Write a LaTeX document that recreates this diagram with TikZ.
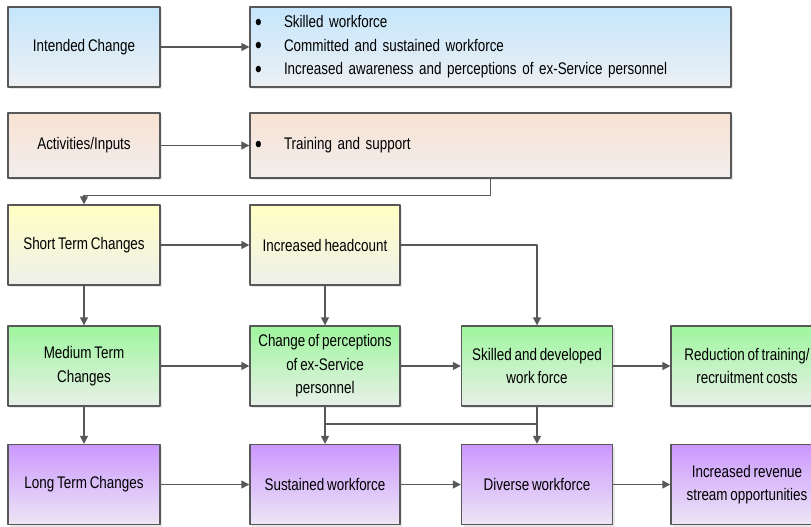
\documentclass[tikz,border=0pt]{standalone}
\usepackage{fontspec}
\setmainfont{Liberation Sans}[FakeStretch=0.8,WordSpace=0.75]
\usetikzlibrary{arrows.meta,shadows}
\definecolor{edge}{RGB}{88,88,88}
\definecolor{blueA}{RGB}{198,230,252}\definecolor{blueB}{RGB}{236,240,244}
\definecolor{peachA}{RGB}{248,226,212}\definecolor{peachB}{RGB}{241,238,236}
\definecolor{yelA}{RGB}{255,255,196}\definecolor{yelB}{RGB}{238,240,234}
\definecolor{greenA}{RGB}{158,246,158}\definecolor{greenB}{RGB}{232,240,232}
\definecolor{purA}{RGB}{204,152,255}\definecolor{purB}{RGB}{236,230,244}
\begin{document}
\begin{tikzpicture}[x=1pt,y=-1pt,line join=round,
	font=\fontsize{16.8}{23.5}\selectfont,
	box/.style={draw=edge,line width=1.4pt,minimum width=152pt,minimum height=80pt,
		align=center,inner sep=4pt,drop shadow={shadow xshift=2pt,shadow yshift=-2pt,opacity=0.18}},
	wide/.style={box,minimum width=481pt,text width=471pt,align=left},
	bluebox/.style={top color=blueA,bottom color=blueB},
	peachbox/.style={top color=peachA,bottom color=peachB,minimum height=65pt},
	yelbox/.style={top color=yelA,bottom color=yelB},
	greenbox/.style={top color=greenA,bottom color=greenB},
	purbox/.style={top color=purA,bottom color=purB},
	arr/.style={draw=edge,line width=1.5pt,-{Triangle[width=8pt,length=8pt]}},
	ln/.style={draw=edge,line width=1.5pt}]
	\useasboundingbox (0,0) rectangle (811,527);
	\fill[white] (0,0) rectangle (811,527);
	\newcommand{\itm}[1]{\makebox[29pt][l]{\raisebox{-2.5pt}{\fontsize{24}{23.5}\selectfont\textbullet}}#1}
	% rows
	\node[box,bluebox] (intended) at (84,47) {Intended Change};
	\node[wide,bluebox] (goals) at (490.5,47) {\itm{Skilled workforce}\\ \itm{Committed and sustained workforce}\\ \itm{Increased awareness and perceptions of ex-Service personnel}};
	\node[box,peachbox] (acts) at (84,145.5) {Activities/Inputs};
	\node[wide,peachbox] (train) at (490.5,145.5) {\itm{Training and support}};
	\node[box,yelbox] (short) at (84,245) {Short Term Changes};
	\node[box,yelbox,minimum width=150pt] (head) at (325,245) {Increased headcount};
	\node[box,greenbox] (medium) at (84,366) {Medium Term\\Changes};
	\node[box,greenbox,minimum width=150pt] (change) at (325,366) {Change of perceptions\\of ex-Service\\personnel};
	\node[box,greenbox,minimum width=151pt] (skilled) at (537,366) {Skilled and developed\\work force};
	\node[box,greenbox] (reduce) at (747,366) {Reduction of training/\\recruitment costs};
	\node[box,purbox] (long) at (84,484.5) {Long Term Changes};
	\node[box,purbox,minimum width=150pt] (sust) at (325,484.5) {Sustained workforce};
	\node[box,purbox,minimum width=151pt] (div) at (537,484.5) {Diverse workforce};
	\node[box,purbox] (revenue) at (747,484.5) {Increased revenue\\stream opportunities};
	% connectors
	\draw[arr] (intended) -- (goals);
	\draw[arr] (acts) -- (train);
	\draw[arr] (train.south) -- ++(0,17) -| (short.north);
	\draw[arr] (short) -- (head);
	\draw[arr] (head.east) -| (skilled.north);
	\draw[arr] (short) -- (medium);
	\draw[arr] (medium) -- (long);
	\draw[arr] (head) -- (change);
	\draw[arr] (medium) -- (change);
	\draw[arr] (change) -- (skilled);
	\draw[arr] (skilled) -- (reduce);
	\draw[arr] (long) -- (sust);
	\draw[arr] (sust) -- (div);
	\draw[arr] (div) -- (revenue);
	\draw[arr] (change) -- (sust);
	\draw[arr] (skilled) -- (div);
	\coordinate (jl) at (325,424);
	\coordinate (jr) at (537,424);
	\draw[ln] (jl) -- (jr);
\end{tikzpicture}
\end{document}
